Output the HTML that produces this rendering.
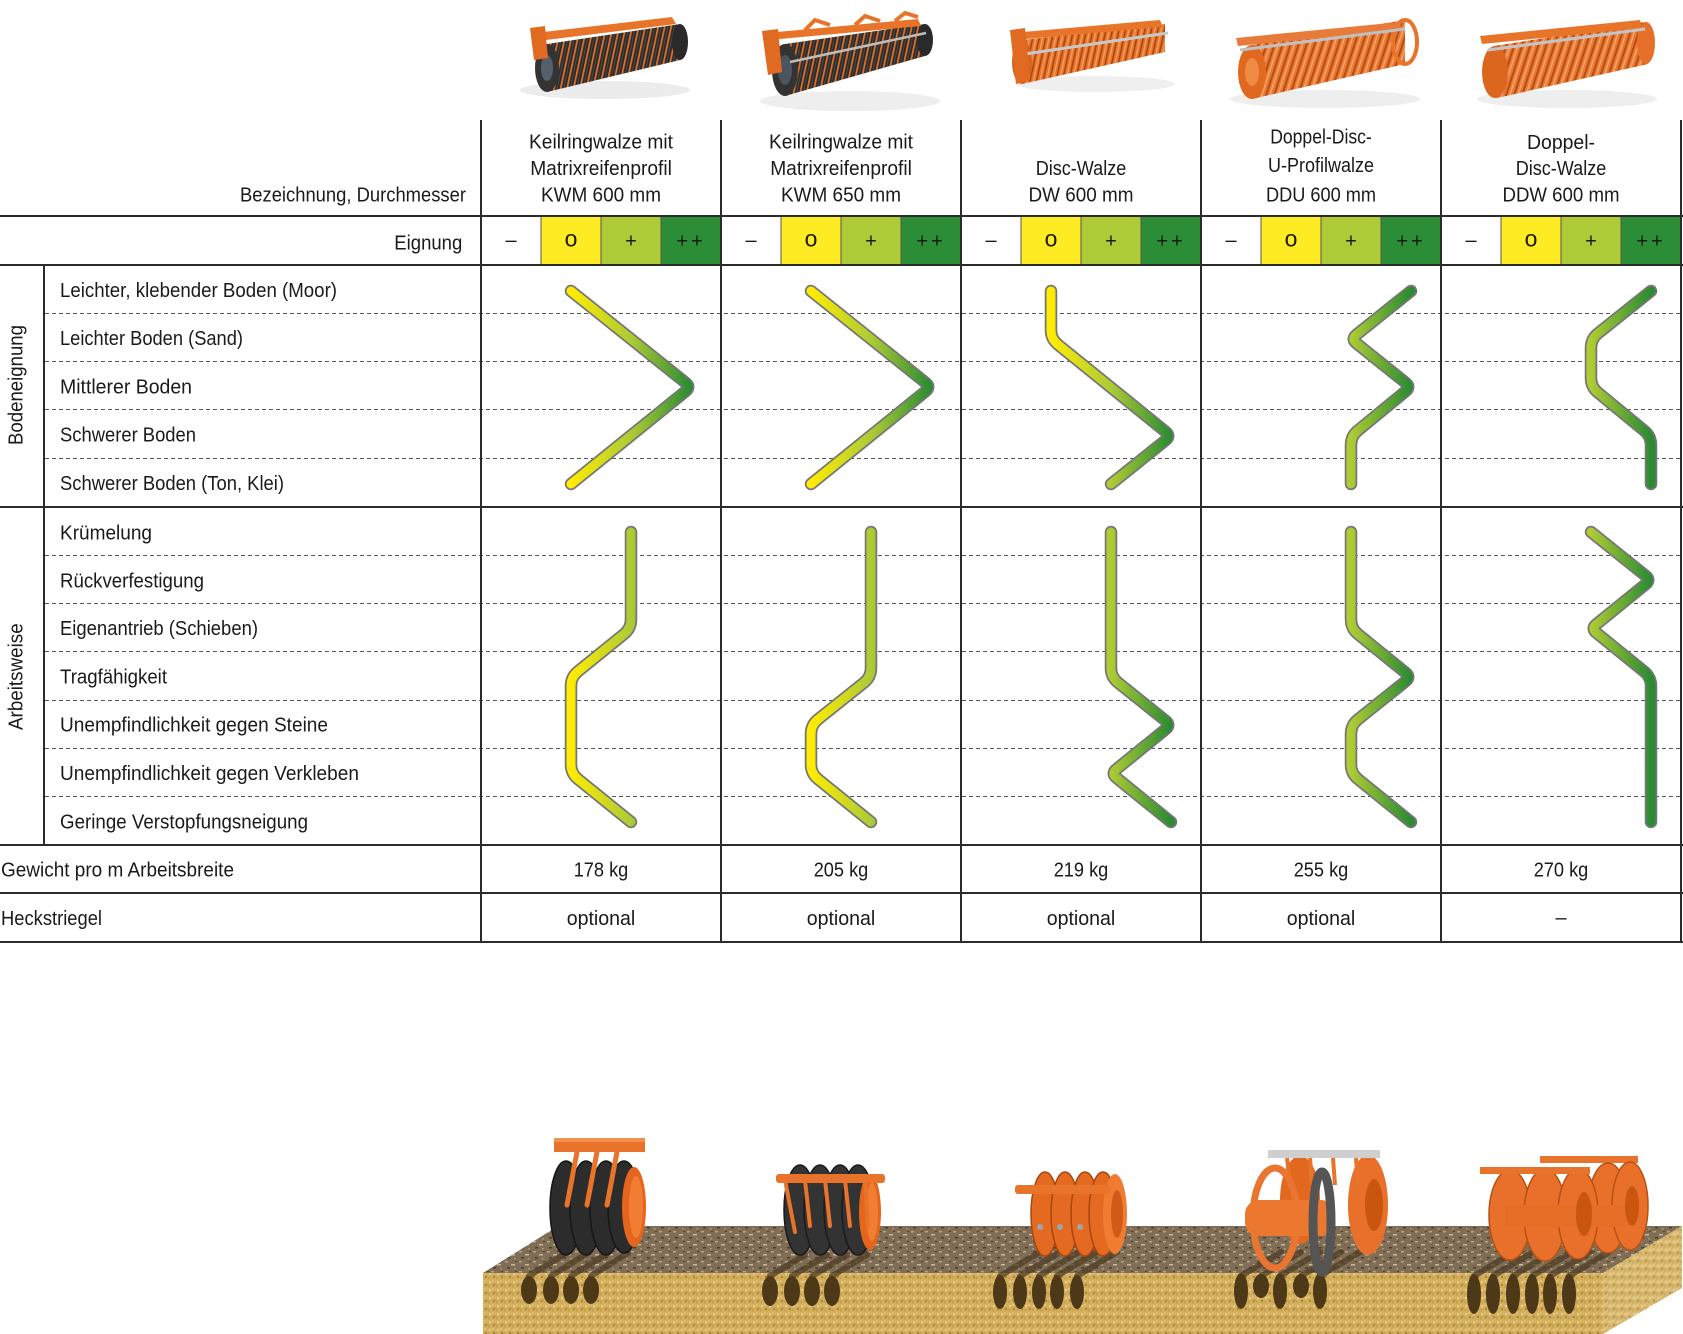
<!DOCTYPE html>
<html><head><meta charset="utf-8"><style>
html,body{margin:0;padding:0;background:#fff;}
body{width:1683px;height:1334px;overflow:hidden;}
svg{display:block;}
text{font-family:"Liberation Sans",Arial,sans-serif;font-size:20px;fill:#1a1a1a;}
</style></head><body>
<svg width="1683" height="1334" viewBox="0 0 1683 1334" xmlns="http://www.w3.org/2000/svg">
<defs>
<linearGradient id="g1" gradientUnits="userSpaceOnUse" x1="571" y1="0" x2="691" y2="0"><stop offset="0" stop-color="#FFEC00"/><stop offset="0.5" stop-color="#ADCB35"/><stop offset="1" stop-color="#2A8B33"/></linearGradient>
<linearGradient id="g2" gradientUnits="userSpaceOnUse" x1="811" y1="0" x2="931" y2="0"><stop offset="0" stop-color="#FFEC00"/><stop offset="0.5" stop-color="#ADCB35"/><stop offset="1" stop-color="#2A8B33"/></linearGradient>
<linearGradient id="g3" gradientUnits="userSpaceOnUse" x1="1051" y1="0" x2="1171" y2="0"><stop offset="0" stop-color="#FFEC00"/><stop offset="0.5" stop-color="#ADCB35"/><stop offset="1" stop-color="#2A8B33"/></linearGradient>
<linearGradient id="g4" gradientUnits="userSpaceOnUse" x1="1291" y1="0" x2="1411" y2="0"><stop offset="0" stop-color="#FFEC00"/><stop offset="0.5" stop-color="#ADCB35"/><stop offset="1" stop-color="#2A8B33"/></linearGradient>
<linearGradient id="g5" gradientUnits="userSpaceOnUse" x1="1531" y1="0" x2="1651" y2="0"><stop offset="0" stop-color="#FFEC00"/><stop offset="0.5" stop-color="#ADCB35"/><stop offset="1" stop-color="#2A8B33"/></linearGradient>
<pattern id="pDark" width="6.5" height="200" patternUnits="userSpaceOnUse" patternTransform="skewX(-12)">
 <rect width="6.5" height="200" fill="#2c2c2c"/><rect x="0" width="1.8" height="200" fill="#e46f26"/><rect x="3.5" width="1" height="200" fill="#4a4a4a"/>
</pattern>
<pattern id="pOr" width="6.5" height="200" patternUnits="userSpaceOnUse" patternTransform="skewX(-12)">
 <rect width="6.5" height="200" fill="#e8742c"/><rect x="0" width="1.6" height="200" fill="#a9460f"/><rect x="3.5" width="1.2" height="200" fill="#f6a465"/>
</pattern>
<pattern id="pOr2" width="8" height="200" patternUnits="userSpaceOnUse" patternTransform="skewX(-18)">
 <rect width="8" height="200" fill="#ea7832"/><rect x="0" width="2" height="200" fill="#b24c14"/><rect x="4" width="1.5" height="200" fill="#f7a86c"/>
</pattern>
<pattern id="pGravel" width="14" height="10" patternUnits="userSpaceOnUse">
 <rect width="14" height="10" fill="#7f6d56"/>
 <rect x="1" y="1" width="3" height="1.5" fill="#b8a584"/><rect x="7" y="4" width="4" height="1.5" fill="#c9b896"/>
 <rect x="3" y="7" width="3" height="1.5" fill="#4c3e2c"/><rect x="10" y="8" width="2" height="1.5" fill="#a9946f"/>
 <rect x="11" y="1" width="2" height="1" fill="#4e402e"/>
</pattern>
<pattern id="pSand" width="8" height="8" patternUnits="userSpaceOnUse">
 <rect width="8" height="8" fill="#d3ae5c"/>
 <circle cx="2" cy="2" r="1.2" fill="#eccf86"/><circle cx="6" cy="5" r="1.2" fill="#a98438"/>
 <circle cx="5" cy="1" r="0.8" fill="#f2dc9c"/><circle cx="1" cy="6" r="0.9" fill="#bf9846"/>
</pattern>
</defs>

<!-- ===== Top product images ===== -->
<ellipse cx="605" cy="90" rx="85" ry="9" fill="#ececec"/>
<polygon points="547,44 680,24 680,60 547,92" fill="url(#pDark)"/>
<ellipse cx="680" cy="42" rx="8" ry="18" fill="#2a2a2a"/>
<ellipse cx="547" cy="68" rx="12" ry="24" fill="#333"/>
<ellipse cx="547" cy="68" rx="6" ry="13" fill="#56606a"/>
<polygon points="535,33 672,17 676,24 538,41" fill="#e8742a"/>
<polygon points="530,28 545,26 548,58 534,60" fill="#e06a22"/>

<ellipse cx="850" cy="101" rx="90" ry="10" fill="#eeeeee"/>
<polygon points="785,44 925,24 925,56 785,96" fill="url(#pDark)"/>
<ellipse cx="925" cy="40" rx="8" ry="16" fill="#2a2a2a"/>
<ellipse cx="785" cy="70" rx="13" ry="26" fill="#333"/>
<ellipse cx="785" cy="70" rx="7" ry="15" fill="#4a5560"/>
<line x1="790" y1="62" x2="926" y2="33" stroke="#bdbdbd" stroke-width="2.5"/>
<polygon points="766,33 918,19 921,26 769,40" fill="#e8742a"/>
<polygon points="762,31 778,29 782,72 768,75" fill="#e06a22"/>
<path d="M805 30 L815 20 L830 25 M855 25 L865 16 L880 21 M895 21 L905 13 L918 17" stroke="#e8742a" stroke-width="4" fill="none"/>

<ellipse cx="1095" cy="84" rx="80" ry="8" fill="#efefef"/>
<polygon points="1022,40 1165,24 1165,52 1022,84" fill="url(#pOr)"/>
<ellipse cx="1022" cy="62" rx="10" ry="22" fill="#d9621e"/>
<polygon points="1012,33 1160,20 1163,27 1014,40" fill="#e8742a"/>
<line x1="1025" y1="54" x2="1168" y2="33" stroke="#c8c8c8" stroke-width="3"/>
<polygon points="1010,30 1025,28 1030,80 1016,84" fill="#e06a22"/>

<ellipse cx="1325" cy="99" rx="95" ry="9" fill="#eeeeee"/>
<polygon points="1252,45 1405,20 1405,64 1252,99" fill="url(#pOr2)"/>
<ellipse cx="1405" cy="42" rx="12" ry="22" fill="none" stroke="#e8742a" stroke-width="4"/>
<ellipse cx="1252" cy="72" rx="14" ry="27" fill="#e0691f"/>
<ellipse cx="1252" cy="72" rx="7" ry="14" fill="#f08a45"/>
<polygon points="1236,38 1400,22 1402,30 1238,46" fill="#e87a3a"/>
<line x1="1240" y1="50" x2="1405" y2="29" stroke="#c0c0c0" stroke-width="3"/>

<ellipse cx="1567" cy="99" rx="90" ry="9" fill="#eeeeee"/>
<polygon points="1494,46 1645,22 1648,64 1497,98" fill="url(#pOr2)"/>
<ellipse cx="1646" cy="43" rx="9" ry="21" fill="#e6702a"/>
<ellipse cx="1495" cy="72" rx="13" ry="26" fill="#dc661d"/>
<polygon points="1480,36 1640,20 1642,28 1482,44" fill="#e8742a"/>
<line x1="1488" y1="50" x2="1645" y2="29" stroke="#c4c4c4" stroke-width="3"/>

<!-- ===== Table: Eignung colored cells ===== -->
<g>
<rect x="541" y="216" width="60" height="49" fill="#FFEB24"/><rect x="601" y="216" width="60" height="49" fill="#ADCB37"/><rect x="661" y="216" width="60" height="49" fill="#2B8D35"/>
<rect x="781" y="216" width="60" height="49" fill="#FFEB24"/><rect x="841" y="216" width="60" height="49" fill="#ADCB37"/><rect x="901" y="216" width="60" height="49" fill="#2B8D35"/>
<rect x="1021" y="216" width="60" height="49" fill="#FFEB24"/><rect x="1081" y="216" width="60" height="49" fill="#ADCB37"/><rect x="1141" y="216" width="60" height="49" fill="#2B8D35"/>
<rect x="1261" y="216" width="60" height="49" fill="#FFEB24"/><rect x="1321" y="216" width="60" height="49" fill="#ADCB37"/><rect x="1381" y="216" width="60" height="49" fill="#2B8D35"/>
<rect x="1501" y="216" width="60" height="49" fill="#FFEB24"/><rect x="1561" y="216" width="60" height="49" fill="#ADCB37"/><rect x="1621" y="216" width="60" height="49" fill="#2B8D35"/>
</g>
<g stroke="#555" stroke-width="1">
<line x1="541" y1="216" x2="541" y2="265"/><line x1="601" y1="216" x2="601" y2="265"/><line x1="661" y1="216" x2="661" y2="265"/>
<line x1="781" y1="216" x2="781" y2="265"/><line x1="841" y1="216" x2="841" y2="265"/><line x1="901" y1="216" x2="901" y2="265"/>
<line x1="1021" y1="216" x2="1021" y2="265"/><line x1="1081" y1="216" x2="1081" y2="265"/><line x1="1141" y1="216" x2="1141" y2="265"/>
<line x1="1261" y1="216" x2="1261" y2="265"/><line x1="1321" y1="216" x2="1321" y2="265"/><line x1="1381" y1="216" x2="1381" y2="265"/>
<line x1="1501" y1="216" x2="1501" y2="265"/><line x1="1561" y1="216" x2="1561" y2="265"/><line x1="1621" y1="216" x2="1621" y2="265"/>
</g>

<g stroke="#555" stroke-width="1" stroke-dasharray="4 3">
<line x1="45" y1="313.5" x2="1681" y2="313.5"/><line x1="45" y1="361.5" x2="1681" y2="361.5"/>
<line x1="45" y1="409.5" x2="1681" y2="409.5"/><line x1="45" y1="458.5" x2="1681" y2="458.5"/>
<line x1="45" y1="555.5" x2="1681" y2="555.5"/><line x1="45" y1="603.5" x2="1681" y2="603.5"/>
<line x1="45" y1="651.5" x2="1681" y2="651.5"/><line x1="45" y1="700.5" x2="1681" y2="700.5"/>
<line x1="45" y1="748.5" x2="1681" y2="748.5"/><line x1="45" y1="796.5" x2="1681" y2="796.5"/>
</g>

<g stroke="#2b2b2b" stroke-width="2">
<line x1="0" y1="216" x2="1683" y2="216"/>
<line x1="0" y1="265" x2="1683" y2="265"/>
<line x1="0" y1="507" x2="1683" y2="507"/>
<line x1="0" y1="845" x2="1683" y2="845"/>
<line x1="0" y1="893" x2="1683" y2="893"/>
<line x1="0" y1="942" x2="1683" y2="942"/>
<line x1="44" y1="265" x2="44" y2="845"/>
<line x1="481" y1="120" x2="481" y2="942"/>
<line x1="721" y1="120" x2="721" y2="942"/>
<line x1="961" y1="120" x2="961" y2="942"/>
<line x1="1201" y1="120" x2="1201" y2="942"/>
<line x1="1441" y1="120" x2="1441" y2="942"/>
<line x1="1681" y1="120" x2="1681" y2="942"/>
</g>

<!-- ===== Curves ===== -->
<g fill="none" stroke-linecap="round" stroke-linejoin="round">
<g stroke="#767676" stroke-width="12.5">
<path d="M571,291 L685.5,382.6 Q691,387 685.5,391.4 L571,484"/>
<path d="M811,291 L925.5,382.6 Q931,387 925.5,391.4 L811,484"/>
<path d="M1051,291 L1051,330 Q1051,339 1058,344.6 L1165.5,431.6 Q1171,436 1165.5,440.4 L1111,484"/>
<path d="M1411,291 L1356.5,334.6 Q1351,339 1356.5,343.4 L1405.5,382.6 Q1411,387 1405.5,391.4 L1358,430.4 Q1351,436 1351,445 L1351,484"/>
<path d="M1651,291 L1598,333.4 Q1591,339 1591,348 L1591,378 Q1591,387 1598,392.6 L1644,430.4 Q1651,436 1651,445 L1651,484"/>
<path d="M631,532 L631,619.5 Q631,628.5 624,634.1 L578,671.4 Q571,677 571,686 L571,764.5 Q571,773.5 578,779.1 L631,822"/>
<path d="M871,532 L871,668 Q871,677 864,682.6 L818,719.4 Q811,725 811,734 L811,764.5 Q811,773.5 818,779.1 L871,822"/>
<path d="M1111,532 L1111,668 Q1111,677 1118,682.6 L1165.5,720.6 Q1171,725 1165.5,729.4 L1116.5,769.1 Q1111,773.5 1116.5,777.9 L1171,822"/>
<path d="M1351,532 L1351,619.5 Q1351,628.5 1358,634.1 L1405.5,672.6 Q1411,677 1405.5,681.4 L1358,719.4 Q1351,725 1351,734 L1351,764.5 Q1351,773.5 1358,779.1 L1411,822"/>
<path d="M1591,532 L1645.5,575.6 Q1651,580 1645.5,584.4 L1596.5,624.1 Q1591,628.5 1596.5,632.9 L1644,671.4 Q1651,677 1651,686 L1651,822"/>
</g>
<g stroke-width="9">
<path stroke="url(#g1)" d="M571,291 L685.5,382.6 Q691,387 685.5,391.4 L571,484"/>
<path stroke="url(#g2)" d="M811,291 L925.5,382.6 Q931,387 925.5,391.4 L811,484"/>
<path stroke="url(#g3)" d="M1051,291 L1051,330 Q1051,339 1058,344.6 L1165.5,431.6 Q1171,436 1165.5,440.4 L1111,484"/>
<path stroke="url(#g4)" d="M1411,291 L1356.5,334.6 Q1351,339 1356.5,343.4 L1405.5,382.6 Q1411,387 1405.5,391.4 L1358,430.4 Q1351,436 1351,445 L1351,484"/>
<path stroke="url(#g5)" d="M1651,291 L1598,333.4 Q1591,339 1591,348 L1591,378 Q1591,387 1598,392.6 L1644,430.4 Q1651,436 1651,445 L1651,484"/>
<path stroke="url(#g1)" d="M631,532 L631,619.5 Q631,628.5 624,634.1 L578,671.4 Q571,677 571,686 L571,764.5 Q571,773.5 578,779.1 L631,822"/>
<path stroke="url(#g2)" d="M871,532 L871,668 Q871,677 864,682.6 L818,719.4 Q811,725 811,734 L811,764.5 Q811,773.5 818,779.1 L871,822"/>
<path stroke="url(#g3)" d="M1111,532 L1111,668 Q1111,677 1118,682.6 L1165.5,720.6 Q1171,725 1165.5,729.4 L1116.5,769.1 Q1111,773.5 1116.5,777.9 L1171,822"/>
<path stroke="url(#g4)" d="M1351,532 L1351,619.5 Q1351,628.5 1358,634.1 L1405.5,672.6 Q1411,677 1405.5,681.4 L1358,719.4 Q1351,725 1351,734 L1351,764.5 Q1351,773.5 1358,779.1 L1411,822"/>
<path stroke="url(#g5)" d="M1591,532 L1645.5,575.6 Q1651,580 1645.5,584.4 L1596.5,624.1 Q1591,628.5 1596.5,632.9 L1644,671.4 Q1651,677 1651,686 L1651,822"/>
</g>
</g>

<!-- ===== Text ===== -->
<text x="240" y="201.7" textLength="226" lengthAdjust="spacingAndGlyphs">Bezeichnung, Durchmesser</text>

<text x="529" y="148.3" textLength="144" lengthAdjust="spacingAndGlyphs">Keilringwalze mit</text>
<text x="530.2" y="175" textLength="141.7" lengthAdjust="spacingAndGlyphs">Matrixreifenprofil</text>
<text x="541" y="201.7" textLength="120" lengthAdjust="spacingAndGlyphs">KWM 600 mm</text>

<text x="769" y="148.3" textLength="144" lengthAdjust="spacingAndGlyphs">Keilringwalze mit</text>
<text x="770.2" y="175" textLength="141.7" lengthAdjust="spacingAndGlyphs">Matrixreifenprofil</text>
<text x="781" y="201.7" textLength="120" lengthAdjust="spacingAndGlyphs">KWM 650 mm</text>

<text x="1035.7" y="175" textLength="90.6" lengthAdjust="spacingAndGlyphs">Disc-Walze</text>
<text x="1028.5" y="201.7" textLength="105" lengthAdjust="spacingAndGlyphs">DW 600 mm</text>

<text x="1270.2" y="143.5" textLength="101.6" lengthAdjust="spacingAndGlyphs">Doppel-Disc-</text>
<text x="1268" y="172" textLength="106" lengthAdjust="spacingAndGlyphs">U-Profilwalze</text>
<text x="1266" y="201.7" textLength="110" lengthAdjust="spacingAndGlyphs">DDU 600 mm</text>

<text x="1527" y="149" textLength="68" lengthAdjust="spacingAndGlyphs">Doppel-</text>
<text x="1515.7" y="175" textLength="90.6" lengthAdjust="spacingAndGlyphs">Disc-Walze</text>
<text x="1502.5" y="201.7" textLength="117" lengthAdjust="spacingAndGlyphs">DDW 600 mm</text>

<text x="394.3" y="249.3" textLength="68" lengthAdjust="spacingAndGlyphs">Eignung</text>

<g text-anchor="middle">
<text x="511" y="246.5">–</text><text x="571" y="246.5" style="font-size:23px">o</text><text x="631" y="247.5">+</text><text x="691" y="247.5" letter-spacing="3">++</text>
<text x="751" y="246.5">–</text><text x="811" y="246.5" style="font-size:23px">o</text><text x="871" y="247.5">+</text><text x="931" y="247.5" letter-spacing="3">++</text>
<text x="991" y="246.5">–</text><text x="1051" y="246.5" style="font-size:23px">o</text><text x="1111" y="247.5">+</text><text x="1171" y="247.5" letter-spacing="3">++</text>
<text x="1231" y="246.5">–</text><text x="1291" y="246.5" style="font-size:23px">o</text><text x="1351" y="247.5">+</text><text x="1411" y="247.5" letter-spacing="3">++</text>
<text x="1471" y="246.5">–</text><text x="1531" y="246.5" style="font-size:23px">o</text><text x="1591" y="247.5">+</text><text x="1651" y="247.5" letter-spacing="3">++</text>
</g>

<text x="60" y="296.8" textLength="277" lengthAdjust="spacingAndGlyphs">Leichter, klebender Boden (Moor)</text>
<text x="60" y="345.1" textLength="183" lengthAdjust="spacingAndGlyphs">Leichter Boden (Sand)</text>
<text x="60" y="393.4" textLength="132" lengthAdjust="spacingAndGlyphs">Mittlerer Boden</text>
<text x="60" y="441.7" textLength="136" lengthAdjust="spacingAndGlyphs">Schwerer Boden</text>
<text x="60" y="490" textLength="224" lengthAdjust="spacingAndGlyphs">Schwerer Boden (Ton, Klei)</text>

<text x="60" y="539.3" textLength="92" lengthAdjust="spacingAndGlyphs">Krümelung</text>
<text x="60" y="587.3" textLength="144" lengthAdjust="spacingAndGlyphs">Rückverfestigung</text>
<text x="60" y="635" textLength="198" lengthAdjust="spacingAndGlyphs">Eigenantrieb (Schieben)</text>
<text x="60" y="683.3" textLength="107" lengthAdjust="spacingAndGlyphs">Tragfähigkeit</text>
<text x="60" y="731.7" textLength="268" lengthAdjust="spacingAndGlyphs">Unempfindlichkeit gegen Steine</text>
<text x="60" y="780" textLength="299" lengthAdjust="spacingAndGlyphs">Unempfindlichkeit gegen Verkleben</text>
<text x="60" y="828.3" textLength="248" lengthAdjust="spacingAndGlyphs">Geringe Verstopfungsneigung</text>

<text x="1" y="876.7" textLength="233" lengthAdjust="spacingAndGlyphs">Gewicht pro m Arbeitsbreite</text>
<text x="1" y="925" textLength="101" lengthAdjust="spacingAndGlyphs">Heckstriegel</text>

<text transform="translate(22.7,445) rotate(-90)" textLength="120" lengthAdjust="spacingAndGlyphs">Bodeneignung</text>
<text transform="translate(22.7,730) rotate(-90)" textLength="106.7" lengthAdjust="spacingAndGlyphs">Arbeitsweise</text>

<text x="573.7" y="876.7" textLength="54.6" lengthAdjust="spacingAndGlyphs">178 kg</text>
<text x="813.7" y="876.7" textLength="54.6" lengthAdjust="spacingAndGlyphs">205 kg</text>
<text x="1053.7" y="876.7" textLength="54.6" lengthAdjust="spacingAndGlyphs">219 kg</text>
<text x="1293.7" y="876.7" textLength="54.6" lengthAdjust="spacingAndGlyphs">255 kg</text>
<text x="1533.7" y="876.7" textLength="54.6" lengthAdjust="spacingAndGlyphs">270 kg</text>

<text x="566.7" y="925" textLength="68.6" lengthAdjust="spacingAndGlyphs">optional</text>
<text x="806.7" y="925" textLength="68.6" lengthAdjust="spacingAndGlyphs">optional</text>
<text x="1046.7" y="925" textLength="68.6" lengthAdjust="spacingAndGlyphs">optional</text>
<text x="1286.7" y="925" textLength="68.6" lengthAdjust="spacingAndGlyphs">optional</text>
<text x="1561" y="924" text-anchor="middle">–</text>

<!-- ===== Ground illustration ===== -->
<polygon points="483,1273 558,1226 1682,1226 1603,1273" fill="url(#pGravel)"/>
<rect x="483" y="1273" width="1120" height="61" fill="url(#pSand)"/>
<polygon points="1603,1273 1682,1226 1682,1288 1603,1334" fill="url(#pSand)"/>
<polygon points="1603,1273 1682,1226 1682,1288 1603,1334" fill="#fff" opacity="0.12"/>

<g stroke="#4e3c24" stroke-width="6" opacity="0.75" stroke-linecap="round">
<line x1="529" y1="1276" x2="566" y2="1253"/><line x1="551" y1="1276" x2="588" y2="1253"/><line x1="571" y1="1276" x2="608" y2="1253"/><line x1="591" y1="1276" x2="628" y2="1253"/>
<line x1="770" y1="1276" x2="805" y2="1255"/><line x1="792" y1="1276" x2="827" y2="1255"/><line x1="812" y1="1276" x2="847" y2="1255"/><line x1="832" y1="1276" x2="867" y2="1255"/>
<line x1="1000" y1="1276" x2="1040" y2="1252"/><line x1="1020" y1="1276" x2="1060" y2="1252"/><line x1="1039" y1="1276" x2="1079" y2="1252"/><line x1="1057" y1="1276" x2="1097" y2="1252"/><line x1="1077" y1="1276" x2="1117" y2="1252"/>
<line x1="1241" y1="1276" x2="1281" y2="1252"/><line x1="1261" y1="1276" x2="1301" y2="1252"/><line x1="1280" y1="1276" x2="1320" y2="1252"/><line x1="1301" y1="1276" x2="1341" y2="1252"/><line x1="1320" y1="1276" x2="1360" y2="1252"/>
<line x1="1474" y1="1276" x2="1514" y2="1252"/><line x1="1493" y1="1276" x2="1533" y2="1252"/><line x1="1513" y1="1276" x2="1553" y2="1252"/><line x1="1532" y1="1276" x2="1572" y2="1252"/><line x1="1550" y1="1276" x2="1590" y2="1252"/><line x1="1569" y1="1276" x2="1609" y2="1252"/>
</g>
<g fill="#4d3818">
<ellipse cx="529" cy="1290" rx="8" ry="14"/><ellipse cx="551" cy="1290" rx="8" ry="14"/><ellipse cx="571" cy="1290" rx="8" ry="14"/><ellipse cx="591" cy="1290" rx="8" ry="14"/>
<ellipse cx="770" cy="1291" rx="8" ry="15"/><ellipse cx="792" cy="1291" rx="8" ry="15"/><ellipse cx="812" cy="1291" rx="8" ry="15"/><ellipse cx="832" cy="1291" rx="8" ry="15"/>
<ellipse cx="1000" cy="1292" rx="7" ry="17"/><ellipse cx="1020" cy="1292" rx="7" ry="17"/><ellipse cx="1039" cy="1292" rx="7" ry="17"/><ellipse cx="1057" cy="1292" rx="7" ry="17"/><ellipse cx="1077" cy="1292" rx="7" ry="17"/>
<ellipse cx="1241" cy="1291" rx="7" ry="18"/><ellipse cx="1261" cy="1286" rx="8" ry="12"/><ellipse cx="1280" cy="1291" rx="7" ry="18"/><ellipse cx="1301" cy="1286" rx="8" ry="12"/><ellipse cx="1320" cy="1291" rx="7" ry="18"/>
<ellipse cx="1474" cy="1294" rx="7" ry="20"/><ellipse cx="1493" cy="1294" rx="7" ry="20"/><ellipse cx="1513" cy="1294" rx="7" ry="20"/><ellipse cx="1532" cy="1294" rx="7" ry="20"/><ellipse cx="1550" cy="1294" rx="7" ry="20"/><ellipse cx="1569" cy="1294" rx="7" ry="20"/>
</g>

<g>
<g fill="#2c2c2c" stroke="#161616" stroke-width="1.5">
<ellipse cx="566" cy="1208" rx="16" ry="47"/><ellipse cx="586" cy="1208" rx="16" ry="47"/><ellipse cx="606" cy="1208" rx="16" ry="47"/><ellipse cx="624" cy="1207" rx="16" ry="46"/>
</g>
<ellipse cx="634" cy="1207" rx="12" ry="40" fill="#e5651c"/>
<ellipse cx="636" cy="1207" rx="7" ry="31" fill="#f27e34"/>
<g stroke="#e8732a" stroke-width="5" stroke-linecap="round">
<line x1="577" y1="1152" x2="567" y2="1205"/><line x1="597" y1="1152" x2="587" y2="1205"/><line x1="617" y1="1152" x2="607" y2="1205"/>
</g>
<rect x="554" y="1138" width="91" height="14" fill="#e8732a"/>
<rect x="554" y="1138" width="91" height="4" fill="#f29050"/>
</g>

<g>
<g fill="#333" stroke="#1a1a1a" stroke-width="1.5">
<ellipse cx="800" cy="1210" rx="16" ry="45"/><ellipse cx="820" cy="1210" rx="16" ry="45"/><ellipse cx="840" cy="1210" rx="16" ry="45"/><ellipse cx="858" cy="1210" rx="16" ry="45"/>
</g>
<ellipse cx="870" cy="1212" rx="11" ry="38" fill="#e5651c"/>
<ellipse cx="872" cy="1212" rx="6" ry="29" fill="#f27e34"/>
<g stroke="#e8732a" stroke-width="4" stroke-linecap="round">
<line x1="785" y1="1180" x2="795" y2="1232"/><line x1="805" y1="1180" x2="810" y2="1226"/><line x1="825" y1="1180" x2="830" y2="1226"/><line x1="845" y1="1180" x2="850" y2="1226"/><line x1="865" y1="1180" x2="868" y2="1226"/>
</g>
<rect x="776" y="1174" width="109" height="9" rx="3" fill="#e8732a"/>
</g>

<g>
<g fill="#e36a20" stroke="#a9450e" stroke-width="1.5">
<ellipse cx="1045" cy="1214" rx="14" ry="42"/><ellipse cx="1065" cy="1214" rx="14" ry="42"/><ellipse cx="1085" cy="1214" rx="14" ry="42"/><ellipse cx="1103" cy="1214" rx="14" ry="42"/>
</g>
<ellipse cx="1115" cy="1214" rx="12" ry="40" fill="#f07c32"/>
<ellipse cx="1117" cy="1214" rx="6" ry="24" fill="#d25a18"/>
<rect x="1015" y="1185" width="95" height="9" rx="3" fill="#e8732a"/>
<g fill="#9aa6ae"><circle cx="1040" cy="1227" r="3"/><circle cx="1060" cy="1227" r="3"/><circle cx="1080" cy="1227" r="3"/></g>
</g>

<g>
<ellipse cx="1300" cy="1200" rx="20" ry="44" fill="#e3681f"/>
<ellipse cx="1368" cy="1205" rx="20" ry="50" fill="#e8702a"/>
<ellipse cx="1374" cy="1205" rx="9" ry="26" fill="#c9550f"/>
<rect x="1268" y="1150" width="112" height="8" fill="#cfcfcf"/>
<g stroke="#e8732a" stroke-width="4"><line x1="1287" y1="1158" x2="1290" y2="1185"/><line x1="1310" y1="1158" x2="1312" y2="1185"/><line x1="1333" y1="1158" x2="1335" y2="1185"/><line x1="1356" y1="1158" x2="1358" y2="1185"/></g>
<ellipse cx="1275" cy="1218" rx="22" ry="50" fill="none" stroke="#ea7530" stroke-width="7"/>
<rect x="1245" y="1200" width="90" height="36" rx="14" fill="#ec7830"/>
<ellipse cx="1322" cy="1222" rx="9" ry="50" fill="none" stroke="#555" stroke-width="9"/>
</g>

<g>
<rect x="1540" y="1156" width="98" height="7" fill="#e8732a"/>
<g fill="#e8702a" stroke="#b85010" stroke-width="1.5">
<ellipse cx="1608" cy="1208" rx="20" ry="45"/><ellipse cx="1630" cy="1206" rx="18" ry="44"/>
<ellipse cx="1510" cy="1215" rx="21" ry="45"/><ellipse cx="1545" cy="1215" rx="21" ry="46"/><ellipse cx="1578" cy="1214" rx="20" ry="45"/>
</g>
<rect x="1505" y="1205" width="120" height="22" fill="#e56d26"/>
<ellipse cx="1584" cy="1214" rx="8" ry="22" fill="#c9550f"/>
<ellipse cx="1632" cy="1206" rx="7" ry="20" fill="#c9550f"/>
<rect x="1480" y="1167" width="110" height="7" fill="#e8732a"/>
</g>
</svg>
</body></html>
